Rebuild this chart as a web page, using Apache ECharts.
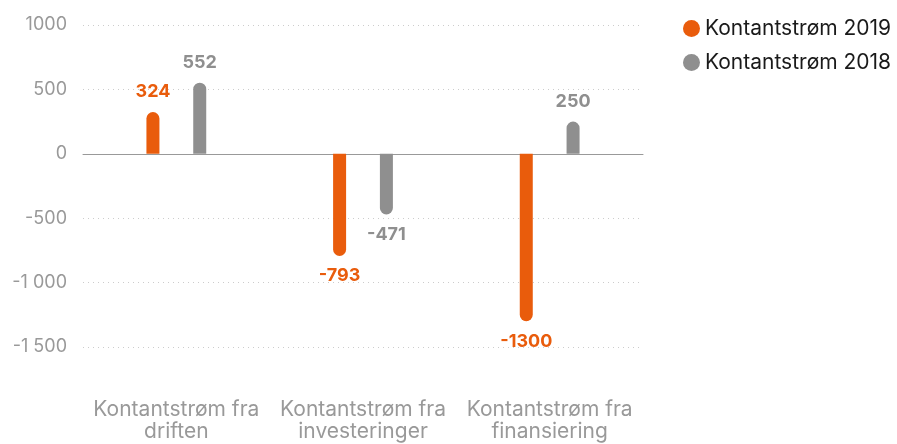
<!DOCTYPE html>
<html>
<head>
<meta charset="utf-8">
<script src="https://cdn.jsdelivr.net/npm/echarts@6/dist/echarts.min.js"></script>
<style>
  html, body { margin: 0; padding: 0; background: #fff; }
  #chart { width: 897px; height: 444px; }
</style>
</head>
<body>
<div id="chart"></div>
<script>
const categories = ['Kontantstrøm fra\ndriften', 'Kontantstrøm fra\ninvesteringer', 'Kontantstrøm fra\nfinansiering'];
const values2019 = [324, -793, -1300];
const values2018 = [552, -471, 250];
const tickValues = [1000, 500, 0, -500, -1000, -1500];
const tickLabels = ['1000', '500', '0', '-500', '-1 000', '-1 500'];

const orange = '#e95c0c';
const grey = '#8f8f8f';
const font = 'Inter, Liberation Sans, Arial, sans-serif';

// rund ende på den ytterste siden av søylen
function toBars(vals) {
    return vals.map(function (v) {
        return {
            value: v,
            itemStyle: { borderRadius: v >= 0 ? [7, 7, 0, 0] : [0, 0, 7, 7] },
            label: { position: v >= 0 ? 'top' : 'bottom' }
        };
    });
}

function barSeries(name, vals, color) {
    return {
        name: name,
        type: 'bar',
        barWidth: 13,
        barGap: '260%',
        itemStyle: { color: color },
        label: {
            show: true,
            distance: 11,
            color: color,
            fontWeight: 'bold',
            fontSize: 18,
            fontFamily: font
        },
        data: toBars(vals)
    };
}

let chart = echarts.init(document.getElementById('chart'));
chart.setOption({
    animation: false,
    legend: {
        orient: 'vertical',
        left: 678,
        top: 13,
        itemWidth: 17,
        itemHeight: 17,
        itemGap: 13,
        icon: 'circle',
        textStyle: { color: '#1a1a1a', fontSize: 21, fontFamily: font },
        data: ['Kontantstrøm 2019', 'Kontantstrøm 2018']
    },
    grid: { left: 83, right: 254, top: 25, bottom: 97 },
    xAxis: {
        type: 'category',
        data: categories,
        axisLine: { onZero: true, lineStyle: { color: '#999', width: 1 } },
        axisTick: { show: false },
        axisLabel: {
            margin: 52,
            color: '#999',
            fontSize: 21,
            lineHeight: 22,
            fontFamily: font,
            interval: 0
        }
    },
    yAxis: {
        type: 'value',
        min: -1500,
        max: 1000,
        interval: 500,
        axisLine: { show: false },
        axisTick: { show: false },
        axisLabel: {
            margin: 16,
            color: '#999',
            fontSize: 18,
            fontFamily: font,
            formatter: function (v) {
                return tickLabels[tickValues.indexOf(v)];
            }
        },
        splitLine: { lineStyle: { color: '#ccc', type: [1, 4], width: 1 } }
    },
    series: [
        barSeries('Kontantstrøm 2019', values2019, orange),
        barSeries('Kontantstrøm 2018', values2018, grey)
    ]
});
</script>
</body>
</html>
